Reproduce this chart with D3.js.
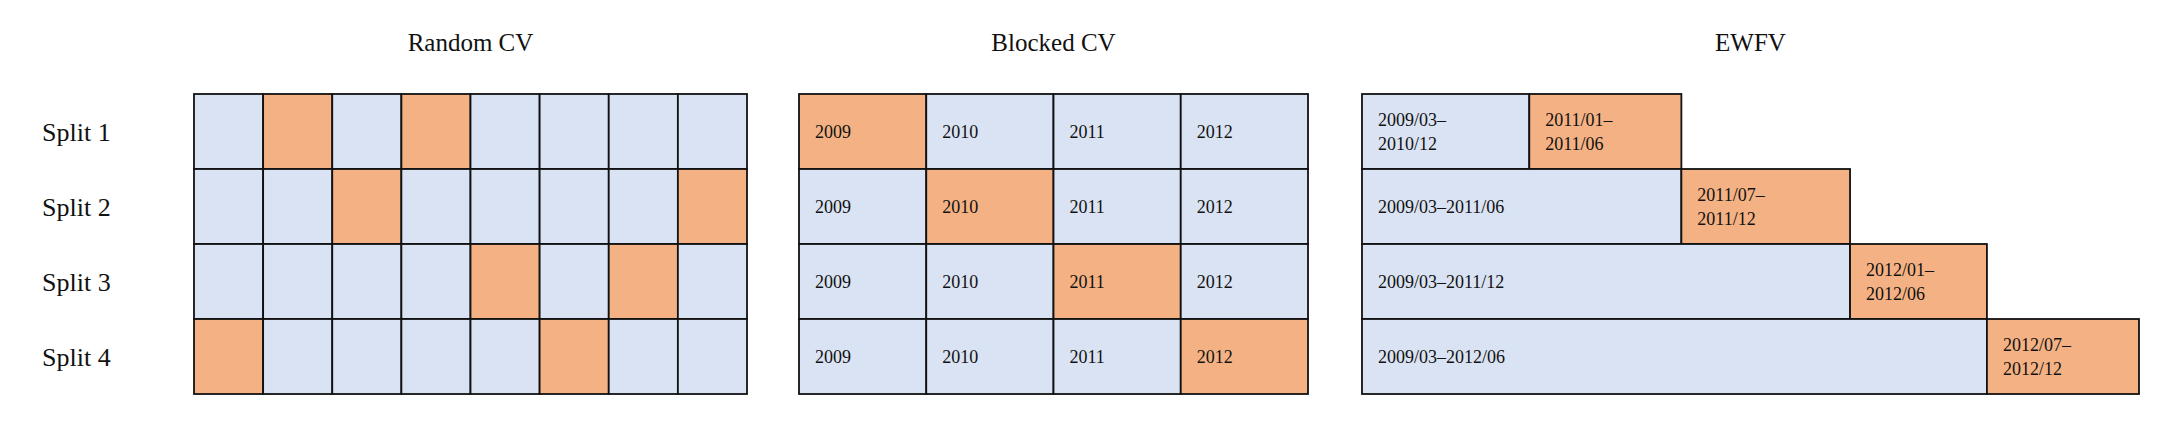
<!DOCTYPE html>
<html><head><meta charset="utf-8">
<script src="https://cdn.jsdelivr.net/npm/d3@7"></script>
<style>body{margin:0;background:#fff}text{font-family:"Liberation Serif","DejaVu Serif",serif;fill:#111}</style>
</head><body><svg id="c" width="2169" height="426"></svg>
<script>
const splits = ["Split 1", "Split 2", "Split 3", "Split 4"];
const panels = ["Random CV", "Blocked CV", "EWFV"];
const randomTest = [[1, 3], [2, 7], [4, 6], [0, 5]];
const nRandom = 8;
const years = ["2009", "2010", "2011", "2012"];
// EWFV timeline boundaries (relative widths)
const ewfvEdges = [0, 1.21, 2.31, 3.53, 4.52, 5.62];
const ewfvTrain = [["2009/03–", "2010/12"], ["2009/03–2011/06"], ["2009/03–2011/12"], ["2009/03–2012/06"]];
const ewfvTest = [["2011/01–", "2011/06"], ["2011/07–", "2011/12"], ["2012/01–", "2012/06"], ["2012/07–", "2012/12"]];

const blue = "#dae3f3", orange = "#f4b183";
const svg = d3.select("#c");
const y = d3.scaleBand().domain(splits).range([94, 394]);
const px = [[194, 747], [799, 1308], [1362, 2139]];

svg.selectAll(".slab").data(splits).join("text")
  .attr("x", 42).attr("y", d => y(d) + y.bandwidth() / 2).attr("dy", "0.35em")
  .attr("font-size", 26).text(d => d);
svg.selectAll(".title").data(panels).join("text")
  .attr("x", (d, i) => (px[i][0] + px[i][1]) / 2).attr("y", 42).attr("dy", "0.35em")
  .attr("text-anchor", "middle").attr("font-size", 25).text(d => d);

function cell(g, x0, x1, row, fill, lines) {
  const yy = y(row), h = y.bandwidth();
  g.append("rect").attr("x", x0).attr("y", yy).attr("width", x1 - x0).attr("height", h)
    .attr("fill", fill).attr("stroke", "#111").attr("stroke-width", 1.8);
  if (!lines) return;
  const lh = 24, top = yy + h / 2 - (lines.length - 1) * lh / 2;
  lines.forEach((t, k) => g.append("text").attr("x", x0 + 16).attr("y", top + k * lh)
    .attr("dy", "0.35em").attr("font-size", 18).text(t));
}

// Random CV
const g1 = svg.append("g");
const xr = d3.scaleBand().domain(d3.range(nRandom)).range(px[0]);
splits.forEach((s, r) => d3.range(nRandom).forEach(c =>
  cell(g1, xr(c), xr(c) + xr.bandwidth(), s, randomTest[r].includes(c) ? orange : blue)));

// Blocked CV
const g2 = svg.append("g");
const xb = d3.scaleBand().domain(years).range(px[1]);
splits.forEach((s, r) => years.forEach((yr, c) =>
  cell(g2, xb(yr), xb(yr) + xb.bandwidth(), s, c === r ? orange : blue, [yr])));

// EWFV
const g3 = svg.append("g");
const xe = d3.scaleLinear().domain([0, ewfvEdges[ewfvEdges.length - 1]]).range(px[2]);
splits.forEach((s, r) => {
  cell(g3, xe(ewfvEdges[0]), xe(ewfvEdges[r + 1]), s, blue, ewfvTrain[r]);
  cell(g3, xe(ewfvEdges[r + 1]), xe(ewfvEdges[r + 2]), s, orange, ewfvTest[r]);
});
</script></body></html>
